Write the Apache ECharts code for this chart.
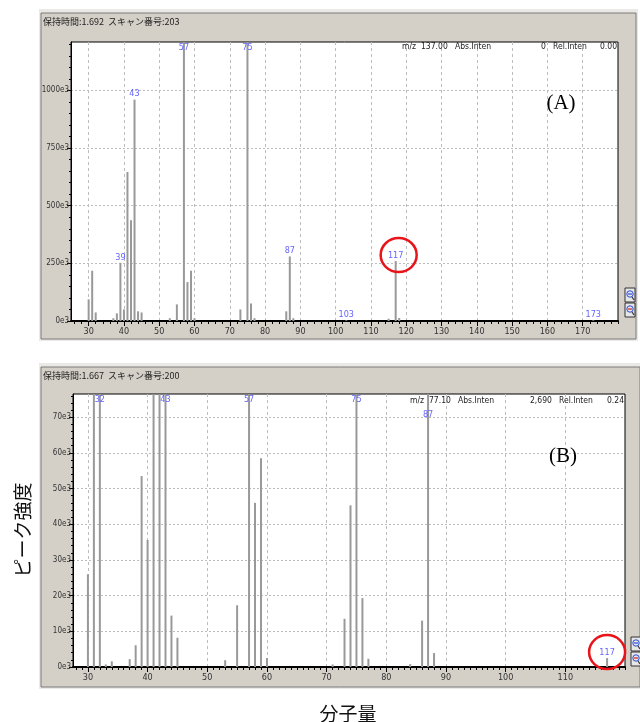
<!DOCTYPE html>
<html><head><meta charset="utf-8">
<script src="https://cdn.jsdelivr.net/npm/echarts@6/dist/echarts.min.js"></script>
<style>html,body{margin:0;padding:0;background:#fff}#c{width:640px;height:722px}</style>
</head><body><div id="c"></div>
<script>
// ---------- data (A) ----------
const mzA = [30,31,32,37,38,39,40,41,42,43,44,45,53,55,57,58,59,60,73,75,76,77,86,87,88,103,115,117,118,173];
const intA = [94,218,37,12,33,252,50,646,437,960,42,37,12,72,1250,169,218,12,50,1250,76,12,42,280,12,3,10,260,13,3]; // x1e3
const peaksA = [39,43,57,75,87,103,117,173];
const xTicksA = [30,40,50,60,70,80,90,100,110,120,130,140,150,160,170];
const yTicksA = [0,250,500,750,1000];
// ---------- data (B) ----------
const mzB = [30,31,32,33,34,37,38,39,40,41,42,43,44,45,53,55,57,58,59,60,71,73,74,75,76,77,84,86,87,88,117];
const intB = [26,80,80,0.7,1.6,2.2,6.1,53.5,35.6,80,80,80,14.4,8.2,1.9,17.3,80,46,58.5,2.5,0.7,13.5,45.3,80,19.3,2.3,0.8,13,80,3.9,2.5]; // x1e3
const peaksB = [32,43,57,75,87,117];
const xTicksB = [30,40,50,60,70,80,90,100,110];
const yTicksB = [0,10,20,30,40,50,60,70];
const circledPeak = 117;
const headerA = '保持時間:1.692  スキャン番号:203';
const headerB = '保持時間:1.667  スキャン番号:200';
const infoA = ['m/z','137.00','Abs.Inten','0','Rel.Inten','0.00'];
const infoB = ['m/z','77.10','Abs.Inten','2,690','Rel.Inten','0.24'];
const yTitle = 'ピーク強度';
const xTitle = '分子量';

// ---------- layout / style ----------
const FONT = "'DejaVu Sans Condensed','Liberation Sans Narrow','DejaVu Sans',sans-serif";
const NARROW = "'Liberation Sans Narrow','DejaVu Sans Condensed',sans-serif";
const JP = "'Noto Sans CJK JP',sans-serif";
const A = {min:25, max:180, ymax:1210, minorX:2, minorY:50};
const B = {min:27.5, max:120, ymax:76.5, minorX:1, minorY:2};

function minorVals(lo, hi, step, majors){
  const r=[]; const s=Math.ceil(lo/step)*step;
  for(let v=s; v<=hi+1e-9; v+=step){ const vv=+v.toFixed(4); if(!majors.includes(vv)) r.push(vv); }
  return r;
}
function xAxes(gi, cfg, ticks){
  return [
    {type:'value', gridIndex:gi, min:cfg.min, max:cfg.max, position:'bottom',
     axisLine:{show:true, onZero:false, lineStyle:{color:'#000', width:2}},
     axisTick:{show:true, customValues:ticks, length:5, lineStyle:{color:'#000'}},
     axisLabel:{customValues:ticks, fontSize:9, color:'#333', margin:6, fontFamily:FONT},
     splitLine:{show:true, lineStyle:{color:'#bdbdbd', type:[3,3], width:1}}},
    {type:'value', gridIndex:gi, min:cfg.min, max:cfg.max, position:'bottom',
     axisLine:{show:false},
     axisTick:{show:true, customValues:minorVals(cfg.min,cfg.max,cfg.minorX,ticks), length:3, lineStyle:{color:'#000'}},
     axisLabel:{show:false}, splitLine:{show:false}}
  ];
}
function yAxes(gi, cfg, ticks){
  return [
    {type:'value', gridIndex:gi, min:0, max:cfg.ymax, position:'left',
     axisLine:{show:true, onZero:false, lineStyle:{color:'#000', width:1}},
     axisTick:{show:true, customValues:ticks, length:4, lineStyle:{color:'#000'}},
     axisLabel:{customValues:ticks, fontSize:8, color:'#333', margin:2, fontFamily:FONT, formatter:v=>v+'e3'},
     splitLine:{show:true, lineStyle:{color:'#bdbdbd', type:[2,2], width:1}}},
    {type:'value', gridIndex:gi, min:0, max:cfg.ymax, position:'left',
     axisLine:{show:false},
     axisTick:{show:true, customValues:minorVals(0,cfg.ymax,cfg.minorY,ticks), length:2, lineStyle:{color:'#000'}},
     axisLabel:{show:false}, splitLine:{show:false}}
  ];
}
function bars(xi, yi, mz, vals){
  return {type:'bar', xAxisIndex:xi, yAxisIndex:yi, barWidth:2, clip:true,
    itemStyle:{color:'#999999'}, silent:true, animation:false,
    data: mz.map((m,i)=>[m, vals[i]])};
}
function peakLabels(xi, yi, mz, vals, peaks, ymax, shifts){
  return {type:'scatter', xAxisIndex:xi, yAxisIndex:yi, symbolSize:0.1, silent:true, animation:false, clip:false,
    data: peaks.map(p=>{
      const v = vals[mz.indexOf(p)];
      const over = v >= ymax;
      const lab = {position: over?'bottom':'top', distance:1};
      if (shifts && shifts[p]) lab.offset=[0, shifts[p]];
      return {value:[p, Math.min(v, ymax)], label:lab};
    }),
    label:{show:true, formatter:p=>String(p.value[0]), color:'#3b3bff', fontSize:9, fontFamily:FONT}};
}

const chart = echarts.init(document.getElementById('c'), null, {renderer:'canvas'});
const gridA = {left:71, top:42, width:547, height:279};
const gridB = {left:73, top:394, width:552, height:273};

const option = {
  animation:false,
  backgroundColor:'#fff',
  grid:[
    Object.assign({show:true, backgroundColor:'#fff', borderColor:'#000', borderWidth:1, containLabel:false}, gridA),
    Object.assign({show:true, backgroundColor:'#fff', borderColor:'#000', borderWidth:1, containLabel:false}, gridB)
  ],
  xAxis: [...xAxes(0, A, xTicksA), ...xAxes(1, B, xTicksB)],
  yAxis: [...yAxes(0, A, yTicksA), ...yAxes(1, B, yTicksB)],
  series: [
    bars(0,0,mzA,intA),
    peakLabels(0,0,mzA,intA,peaksA,A.ymax),
    bars(2,2,mzB,intB),
    peakLabels(2,2,mzB,intB,peaksB,B.ymax,{87:15})
  ]
};
chart.setOption(option);

// ---------- decoration ----------
function panel(x,y,w,h){
  return [
    {type:'rect', z:-100, shape:{x:x-2,y:y-4,width:w+4,height:h+6}, style:{fill:'#ebe9e5'}},
    {type:'rect', z:-99, shape:{x:x,y:y,width:w,height:h}, style:{fill:'#d4d0c8', stroke:'#7a7a7a', lineWidth:1}}
  ];
}
function zoomBtns(x,y){
  const g=[];
  [['#2a4bd8',0],['#d02020',15]].forEach(([c,dy])=>{
    g.push({type:'rect', z:5, shape:{x:x,y:y+dy,width:10,height:14}, style:{fill:'#e6e6e6', stroke:'#333', lineWidth:1}});
    g.push({type:'circle', z:6, shape:{cx:x+5,cy:y+dy+6,r:3.2}, style:{fill:'none', stroke:'#2a4bd8', lineWidth:1}});
    g.push({type:'line', z:6, shape:{x1:x+3,y1:y+dy+6,x2:x+7,y2:y+dy+6}, style:{stroke:c, lineWidth:1.2}});
    g.push({type:'line', z:6, shape:{x1:x+7,y1:y+dy+9,x2:x+9,y2:y+dy+12}, style:{stroke:'#333', lineWidth:1.2}});
  });
  return g;
}
function info(arr, xs, y){
  return arr.map((t,i)=>({type:'text', z:10, x:xs[i], y:y,
    style:{text:t, fill:'#222', font:'8.5px '+NARROW, textAlign:'left', textVerticalAlign:'middle'}}));
}
const pA = chart.convertToPixel({xAxisIndex:0,yAxisIndex:0},[circledPeak, intA[mzA.indexOf(circledPeak)]]);
const pB = chart.convertToPixel({xAxisIndex:2,yAxisIndex:2},[circledPeak, intB[mzB.indexOf(circledPeak)]]);

const graphics = [
  ...panel(41,13,595,326),
  ...panel(41,367,599,320),
  {type:'text', z:10, x:43, y:22, style:{text:headerA, fill:'#222', font:'9px '+JP, textVerticalAlign:'middle'}},
  {type:'text', z:10, x:43, y:376, style:{text:headerB, fill:'#222', font:'9px '+JP, textVerticalAlign:'middle'}},
  ...info(infoA, [402,421,455,541,553,600], 47),
  ...info(infoB, [410,429,458,530,559,607], 401),
  {type:'text', z:10, x:561, y:103, style:{text:'(A)', fill:'#000', font:'21px "Liberation Serif",serif', textAlign:'center', textVerticalAlign:'middle'}},
  {type:'text', z:10, x:563, y:456, style:{text:'(B)', fill:'#000', font:'21px "Liberation Serif",serif', textAlign:'center', textVerticalAlign:'middle'}},
  ...zoomBtns(625,288),
  ...zoomBtns(631,637),
  {type:'ellipse', z:20, shape:{cx:pA[0]+3, cy:pA[1]-6, rx:18, ry:17}, style:{fill:'none', stroke:'#e8141a', lineWidth:2.5}},
  {type:'ellipse', z:20, shape:{cx:pB[0], cy:pB[1]-6, rx:18, ry:17}, style:{fill:'none', stroke:'#e8141a', lineWidth:2.5}},
  {type:'text', z:10, x:23, y:530, rotation:Math.PI/2, style:{text:yTitle, fill:'#111', font:'19px '+JP, textAlign:'center', textVerticalAlign:'middle'}},
  {type:'text', z:10, x:348, y:714, style:{text:xTitle, fill:'#111', font:'19px '+JP, textAlign:'center', textVerticalAlign:'middle'}}
];
chart.setOption({graphic:{elements:graphics}});
</script>
</body></html>
